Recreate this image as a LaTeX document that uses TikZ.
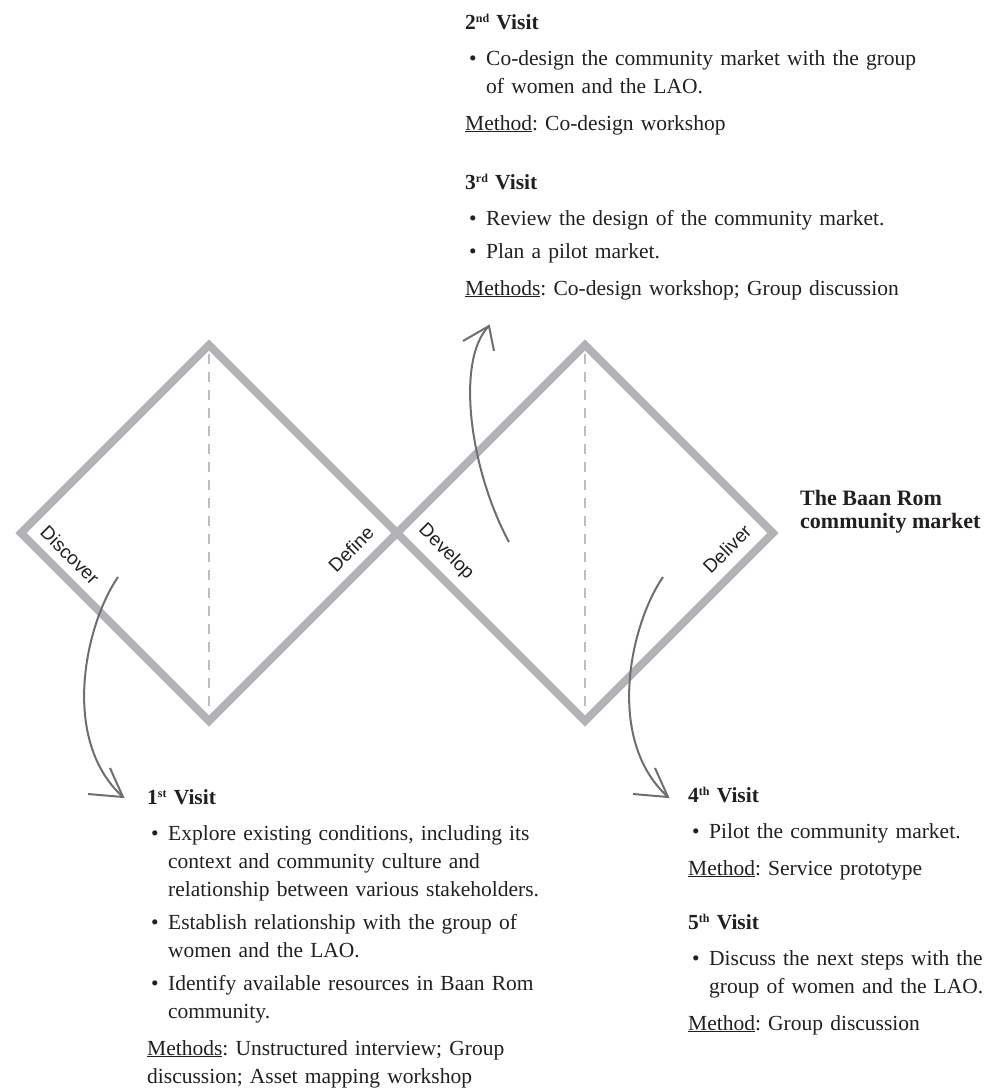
\documentclass[tikz,border=0pt]{standalone}
\usepackage{fontspec}
\setmainfont{Liberation Serif}
\newfontfamily\labelfont{Liberation Sans}
\frenchspacing

\definecolor{diamondgray}{HTML}{B1B3B6}
\definecolor{dashgray}{HTML}{BCBEC0}
\definecolor{arrowgray}{HTML}{6D6E71}
\definecolor{inkblack}{HTML}{231F20}

% ordinal suffix, small and raised
\newcommand{\ordsuffix}[1]{\raisebox{7pt}{\fontsize{12}{12}\selectfont #1}}
% paragraph settings inside a visit block
\newcommand{\visitsetup}{\frenchspacing\setlength{\parindent}{0pt}\setlength{\parskip}{0pt}}
% bullet item with hanging indent
\newcommand{\visititem}[1]{\par\hangindent=21pt\hangafter=1\noindent\makebox[21pt][l]{\hspace{4pt}\textbullet}#1\par}
\newcommand{\visithead}[2]{\noindent\textbf{#1\ordsuffix{#2} Visit}\par\vspace{8pt}}

\tikzset{
  diamondline/.style={draw=diamondgray, line width=8pt, line join=miter},
  midline/.style={draw=dashgray, line width=1.8pt, dash pattern=on 10pt off 8pt,
    shorten <=9pt, shorten >=9pt},
  conn/.style={draw=arrowgray, line width=2pt, line join=miter},
  phase/.style={font=\labelfont\fontsize{19}{19}\selectfont, text=inkblack, inner sep=0pt},
  visit/.style={anchor=base west, inner sep=0pt, text width=#1, align=left, text=inkblack,
    font=\fontsize{21.5}{28}\selectfont},
  result/.style={anchor=base west, inner sep=0pt, align=left, text=inkblack,
    font=\fontsize{22}{23}\selectfont\bfseries},
}

\begin{document}
\begin{tikzpicture}[x=1pt, y=-1pt]
\useasboundingbox (0,0) rectangle (987,1090);

% the two diamonds
\coordinate (d1w) at (21,533);
\coordinate (d1n) at (209,345);
\coordinate (mid) at (397,533);
\coordinate (d1s) at (209,721);
\coordinate (d2n) at (585,345);
\coordinate (d2e) at (773,533);
\coordinate (d2s) at (585,721);

\draw[diamondline] (d1w) -- (d1n) -- (mid) -- (d1s) -- cycle;
\draw[diamondline] (mid) -- (d2n) -- (d2e) -- (d2s) -- cycle;
\draw[midline] (d1n) -- (d1s);
\draw[midline] (d2n) -- (d2s);

% phase labels
\node[phase, rotate=-45] (discover) at (70,555) {Discover};
\node[phase, rotate=45] (define) at (351,549) {Define};
\node[phase, rotate=-45] (develop) at (446,552) {Develop};
\node[phase, rotate=45] (deliver) at (727,549) {Deliver};

% outcome
\node[result] (market) at (800,528) {The Baan Rom\\community market};

% visit descriptions
\node[visit=560pt] (visit1) at (147,804) {\visitsetup
\visithead{1}{st}
\visititem{Explore existing conditions, including its\newline context and community culture and\newline relationship between various stakeholders.}
\vspace{5pt}
\visititem{Establish relationship with the group of\newline women and the LAO.}
\vspace{5pt}
\visititem{Identify available resources in Baan Rom\newline community.}
\vspace{9pt}
\noindent\underline{Methods}: Unstructured interview; Group\newline discussion; Asset mapping workshop};

\node[visit=520pt] (visit2) at (465,29) {\visitsetup
\visithead{2}{nd}
\visititem{Co-design the community market with the group\newline of women and the LAO.}
\vspace{9pt}
\noindent\underline{Method}: Co-design workshop};

\node[visit=520pt] (visit3) at (465,189) {\visitsetup
\visithead{3}{rd}
\visititem{Review the design of the community market.}
\vspace{5pt}
\visititem{Plan a pilot market.}
\vspace{9pt}
\noindent\underline{Methods}: Co-design workshop; Group discussion};

\node[visit=400pt] (visit4) at (688,802) {\visitsetup
\visithead{4}{th}
\visititem{Pilot the community market.}
\vspace{9pt}
\noindent\underline{Method}: Service prototype};

\node[visit=400pt] (visit5) at (688,929) {\visitsetup
\visithead{5}{th}
\visititem{Discuss the next steps with the\newline group of women and the LAO.}
\vspace{9pt}
\noindent\underline{Method}: Group discussion};

% curved arrows between phases and visits
\coordinate (a1s) at (118,577);
\coordinate (a1t) at (123,797);
\coordinate (a1l) at (88,794);
\coordinate (a1r) at (110,768);
\draw[conn] (a1s) .. controls (85,625) and (60,740) .. (a1t);
\draw[conn] (a1l) -- (a1t) -- (a1r);

\coordinate (a2s) at (509,542);
\coordinate (a2t) at (489,326);
\coordinate (a2l) at (463,341);
\coordinate (a2r) at (494,351);
\draw[conn] (a2s) .. controls (470,470) and (455,360) .. (a2t);
\draw[conn] (a2l) -- (a2t) -- (a2r);

\coordinate (a3s) at (663,577);
\coordinate (a3t) at (668,797);
\coordinate (a3l) at (633,794);
\coordinate (a3r) at (655,768);
\draw[conn] (a3s) .. controls (630,625) and (605,740) .. (a3t);
\draw[conn] (a3l) -- (a3t) -- (a3r);
\end{tikzpicture}
\end{document}
